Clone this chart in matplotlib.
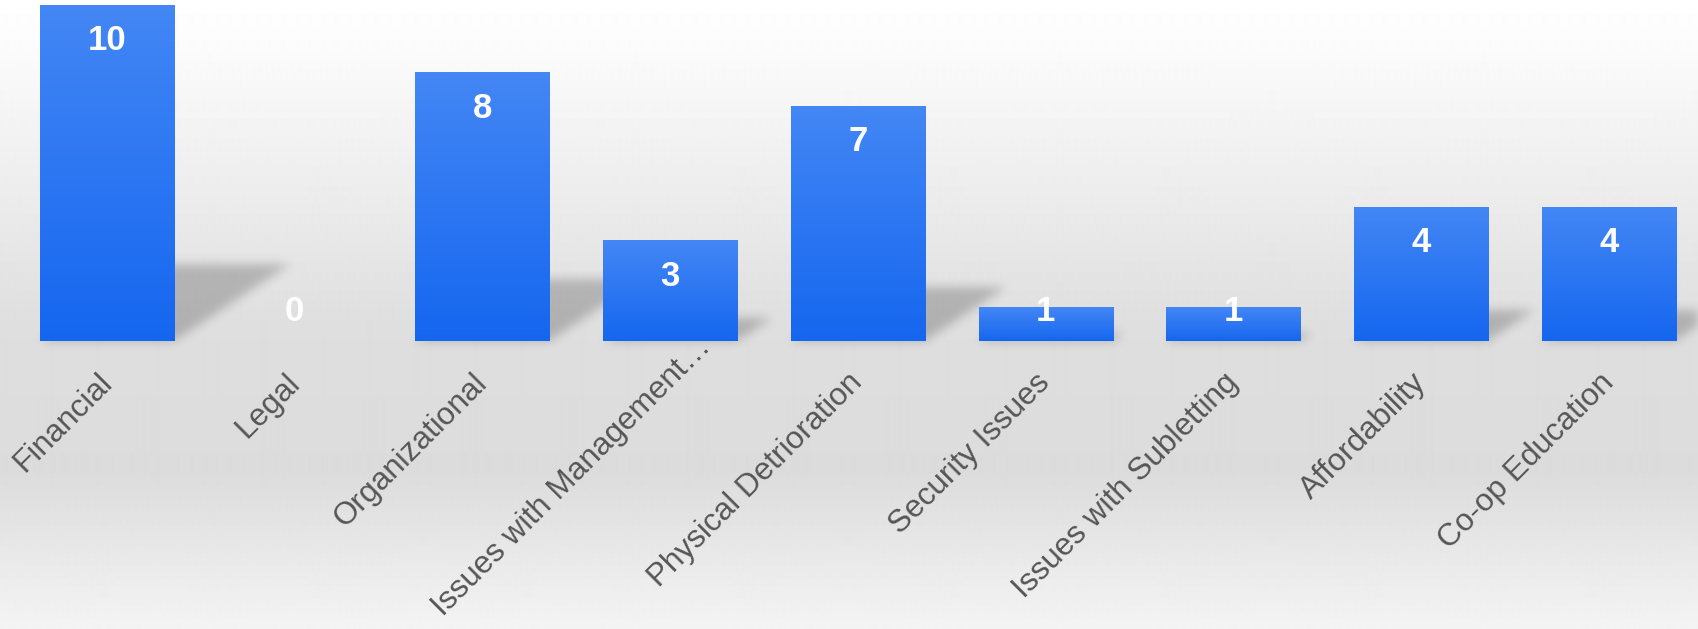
import numpy as np
import matplotlib
matplotlib.use('Agg')
import matplotlib.pyplot as plt
from matplotlib.colors import LinearSegmentedColormap

plt.rcParams['font.family'] = ['Liberation Sans', 'DejaVu Sans']

categories = ['Financial', 'Legal', 'Organizational', 'Issues with Management\u2026',
              'Physical Detrioration', 'Security Issues', 'Issues with Subletting',
              'Affordability', 'Co-op Education']
values = [10, 0, 8, 3, 7, 1, 1, 4, 4]

W, H = 1698, 629
xlim = (-0.570, 8.476)
ylim = (-8.57, 10.15)
bar_w = 0.714

fig = plt.figure(figsize=(W / 100, H / 100), dpi=100)

# background gradient (white at top, grey band, lighter at bottom)
bg = fig.add_axes([0, 0, 1, 1], zorder=0)
grad_pos = [0.0, 0.08, 0.52, 0.75, 1.0]
grad_val = [1.0, 0.985, 0.872, 0.862, 0.955]
rows = np.interp(np.linspace(0, 1, H), grad_pos, grad_val)
bg.imshow(np.repeat(rows[:, None], 4, axis=1), cmap='gray', vmin=0, vmax=1,
          aspect='auto', extent=[0, 1, 0, 1], interpolation='bilinear')
bg.axis('off')

ax = fig.add_axes([0, 0, 1, 1], zorder=1)
ax.patch.set_alpha(0)
ax.set_xlim(*xlim)
ax.set_ylim(*ylim)

# soft floor shadows, slanted up-right from each bar
xs = np.linspace(xlim[0], xlim[1], W)
ys = np.linspace(ylim[1], ylim[0], H)
X, Y = np.meshgrid(xs, ys)
mask = np.zeros((H, W))
slant = 0.269
for i, v in enumerate(values):
    if v == 0:
        continue
    top = 0.23 * v
    inside = (Y >= 0) & (Y <= top) & (X >= i - bar_w / 2 + Y * slant) & (X <= i + bar_w / 2 + Y * slant)
    mask[inside] = 1.0
sig = 5
kx = np.arange(-3 * sig, 3 * sig + 1)
kern = np.exp(-kx ** 2 / (2 * sig ** 2))
kern /= kern.sum()
mask = np.apply_along_axis(lambda r: np.convolve(r, kern, mode='same'), 1, mask)
mask = np.apply_along_axis(lambda c: np.convolve(c, kern, mode='same'), 0, mask)
shadow = np.zeros((H, W, 4))
shadow[..., 3] = mask * 0.21
ax.imshow(shadow, extent=[xlim[0], xlim[1], ylim[0], ylim[1]], aspect='auto',
          zorder=1, interpolation='bilinear')

# bars with vertical gradient
cmap = LinearSegmentedColormap.from_list('bar', ['#1566ef', '#4487f5'])
grad = np.linspace(0, 1, 256)[:, None]
x = np.arange(len(values))
bars = ax.bar(x, values, width=bar_w, color='none', edgecolor='none', zorder=2)
for b, v in zip(bars, values):
    if v == 0:
        continue
    im = ax.imshow(grad, cmap=cmap, origin='lower', aspect='auto', zorder=2,
                   extent=[b.get_x(), b.get_x() + b.get_width(), 0, v])
    im.set_clip_path(b)

for i, v in enumerate(values):
    ax.text(i, max(v - 1.07, 0.87), str(v), ha='center', va='center', color='white',
            fontsize=25, fontweight='bold', zorder=5)

# slanted category labels, end of baseline just below each bar
labels = []
for i, c in enumerate(categories):
    t = ax.annotate(c, xy=(i, 0), xytext=(6, -43), textcoords='offset pixels',
                    rotation=45, rotation_mode='anchor', ha='right', va='baseline',
                    fontsize=22.7, color='#555555', zorder=5)
    labels.append(t)

ax.axis('off')
ax.set_xlim(*xlim)
ax.set_ylim(*ylim)

# push labels that run off the bottom up along their own direction
fig.canvas.draw()
r = fig.canvas.get_renderer()
for t in labels:
    bb = t.get_window_extent(r)
    if bb.y0 < 7:
        d = 7 - bb.y0
        t.xyann = (6 + d, -43 + d)

fig.savefig('out.png', dpi=100)
